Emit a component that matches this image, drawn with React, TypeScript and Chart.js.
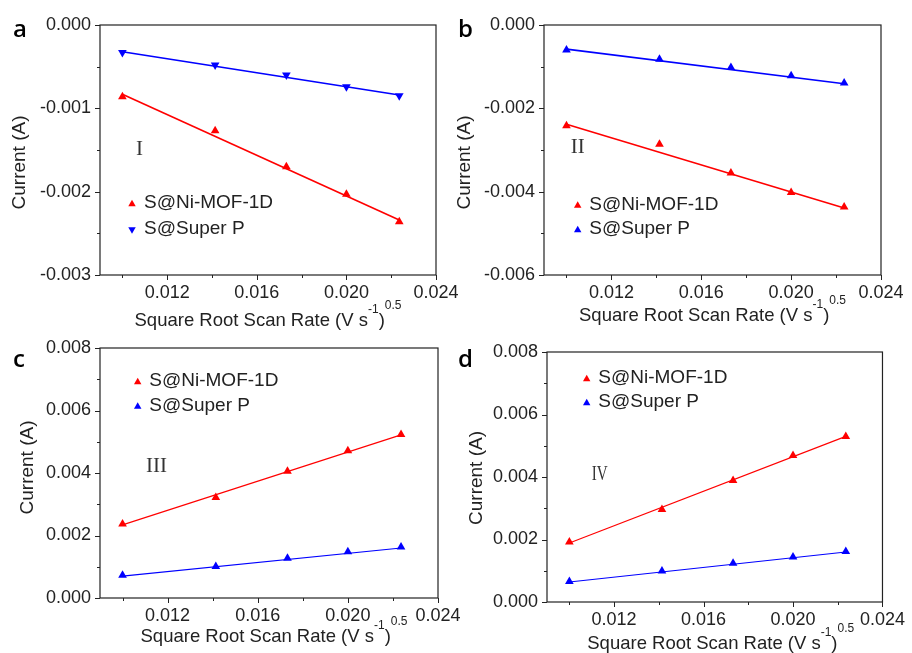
import { useEffect, useRef } from "react";
import { Chart, registerables } from "chart.js";

Chart.register(...registerables);

const W = 912;
const H = 653;
const SANS = "'Liberation Sans', Arial, sans-serif";
const SERIF = "'Liberation Serif', 'Times New Roman', serif";
const RED = "#ff0000";
const BLUE = "#0000ff";
const INK = "#222222";

// Square root of the scan rate, (V s^-1)^0.5
const sqrtScanRate = [0.01, 0.01414, 0.01732, 0.02, 0.02236];
// x positions of the two ends of each linear fit
const fitX = [0.01, 0.02236];

const xTickValues = [0.01, 0.012, 0.014, 0.016, 0.018, 0.02, 0.022, 0.024];
const xTickLabels = ["", "0.012", "", "0.016", "", "0.020", "", "0.024"];

// Peak I
const aNiMOF = [-0.00086, -0.00127, -0.0017, -0.00203, -0.00236];
const aSuperP = [-0.00033, -0.00048, -0.0006, -0.00074, -0.00085];
const aNiMOFFit = [-0.00083, -0.00234];
const aSuperPFit = [-0.00032, -0.00084];
const aYTicks = [0, -0.0005, -0.001, -0.0015, -0.002, -0.0025, -0.003];
const aYLabels = ["0.000", "", "-0.001", "", "-0.002", "", "-0.003"];

// Peak II
const bNiMOF = [-0.00242, -0.00286, -0.00355, -0.00402, -0.00437];
const bSuperP = [-0.0006, -0.00082, -0.00102, -0.00122, -0.00139];
const bNiMOFFit = [-0.00238, -0.00439];
const bSuperPFit = [-0.00058, -0.00141];
const bYTicks = [0, -0.001, -0.002, -0.003, -0.004, -0.005, -0.006];
const bYLabels = ["0.000", "", "-0.002", "", "-0.004", "", "-0.006"];

// Peak III
const cNiMOF = [0.00237, 0.00322, 0.00406, 0.00471, 0.00523];
const cSuperP = [0.00073, 0.00101, 0.00127, 0.00148, 0.00163];
const cNiMOFFit = [0.00234, 0.00522];
const cSuperPFit = [0.0007, 0.0016];
const cYTicks = [0, 0.001, 0.002, 0.003, 0.004, 0.005, 0.006, 0.007, 0.008];
const cYLabels = ["0.000", "", "0.002", "", "0.004", "", "0.006", "", "0.008"];

// Peak IV
const dNiMOF = [0.00192, 0.00296, 0.00389, 0.00469, 0.0053];
const dSuperP = [0.00066, 0.00099, 0.00124, 0.00144, 0.00162];
const dNiMOFFit = [0.00189, 0.0053];
const dSuperPFit = [0.00064, 0.0016];
const dYTicks = cYTicks;
const dYLabels = cYLabels;

const seriesNames = ["S@Ni-MOF-1D", "S@Super P"];

type Panel = {
  letter: string;
  roman: string;
  yTicks: number[];
  yLabels: string[];
  ni: number[];
  niFit: number[];
  sp: number[];
  spFit: number[];
  spDown: boolean;
  lineWidth: number;
  area: { l: number; t: number; r: number; b: number };
  letterPos: [number, number];
  romanPos: [number, number];
  romanScaleX: number;
  legendMarkerDx: number;
  legendTextDx: number;
  legendRows: [number, number];
  yTitle: [number, number];
  xTitle: [number, number];
};

const panels: Panel[] = [
  {
    letter: "a", roman: "I", yTicks: aYTicks, yLabels: aYLabels,
    ni: aNiMOF, niFit: aNiMOFFit, sp: aSuperP, spFit: aSuperPFit, spDown: true, lineWidth: 1.6,
    area: { l: 100, t: 25, r: 436, b: 275 },
    letterPos: [13, 37], romanPos: [36, 130], romanScaleX: 1,
    legendMarkerDx: 32, legendTextDx: 44, legendRows: [178, 203.5],
    yTitle: [-80, 137.5], xTitle: [0, 51],
  },
  {
    letter: "b", roman: "II", yTicks: bYTicks, yLabels: bYLabels,
    ni: bNiMOF, niFit: bNiMOFFit, sp: bSuperP, spFit: bSuperPFit, spDown: false, lineWidth: 1.6,
    area: { l: 544, t: 25, r: 881, b: 275 },
    letterPos: [458, 37], romanPos: [26.7, 128], romanScaleX: 1,
    legendMarkerDx: 33.7, legendTextDx: 45.3, legendRows: [179.5, 204],
    yTitle: [-79, 137.5], xTitle: [0, 46],
  },
  {
    letter: "c", roman: "III", yTicks: cYTicks, yLabels: cYLabels,
    ni: cNiMOF, niFit: cNiMOFFit, sp: cSuperP, spFit: cSuperPFit, spDown: false, lineWidth: 1.1,
    area: { l: 100, t: 348, r: 438, b: 598 },
    letterPos: [13, 367], romanPos: [46, 123.7], romanScaleX: 1,
    legendMarkerDx: 37.7, legendTextDx: 49.3, legendRows: [33, 57.5],
    yTitle: [-72.5, 119.5], xTitle: [5, 43.7],
  },
  {
    letter: "d", roman: "IV", yTicks: dYTicks, yLabels: dYLabels,
    ni: dNiMOF, niFit: dNiMOFFit, sp: dSuperP, spFit: dSuperPFit, spDown: false, lineWidth: 1.1,
    area: { l: 547, t: 352, r: 887, b: 602 },
    letterPos: [458, 367], romanPos: [44.7, 128], romanScaleX: 0.72,
    legendMarkerDx: 39.7, legendTextDx: 51.3, legendRows: [26, 50],
    yTitle: [-70, 126], xTitle: [6, 47.3],
  },
];

function triangle(ctx: CanvasRenderingContext2D, x: number, y: number, r: number, down: boolean) {
  const s = down ? -1 : 1;
  ctx.beginPath();
  ctx.moveTo(x, y - s * r);
  ctx.lineTo(x + r * 0.866, y + s * r * 0.5);
  ctx.lineTo(x - r * 0.866, y + s * r * 0.5);
  ctx.closePath();
  ctx.fill();
}

function decorations(p: Panel) {
  return {
    id: "panelDecor" + p.letter,
    afterDatasetsDraw(chart: Chart) {
      const ctx = chart.ctx;
      const ca = chart.chartArea;
      const xs = chart.scales.x;
      const ys = chart.scales.y;
      ctx.save();

      // plot frame
      ctx.strokeStyle = INK;
      ctx.lineWidth = 1.2;
      ctx.strokeRect(ca.left, ca.top, ca.right - ca.left, ca.bottom - ca.top);

      // outward tick marks, shorter for minor ticks
      ctx.lineWidth = 1;
      ctx.beginPath();
      xTickValues.forEach((v, i) => {
        const px = Math.round(xs.getPixelForValue(v)) + 0.5;
        const len = xTickLabels[i] ? 5 : 3;
        ctx.moveTo(px, ca.bottom);
        ctx.lineTo(px, ca.bottom + len);
      });
      p.yTicks.forEach((v, i) => {
        const py = Math.round(ys.getPixelForValue(v)) + 0.5;
        const len = p.yLabels[i] ? 5 : 3;
        ctx.moveTo(ca.left, py);
        ctx.lineTo(ca.left - len, py);
      });
      ctx.stroke();

      // legend
      const colors = [RED, BLUE];
      ctx.font = `19px ${SANS}`;
      ctx.textBaseline = "middle";
      ctx.textAlign = "left";
      seriesNames.forEach((name, i) => {
        const ry = ca.top + p.legendRows[i];
        ctx.fillStyle = colors[i];
        triangle(ctx, ca.left + p.legendMarkerDx, ry + 1, 4.3, i === 1 && p.spDown);
        ctx.fillStyle = INK;
        ctx.fillText(name, ca.left + p.legendTextDx, ry);
      });

      // peak label
      ctx.save();
      ctx.font = `21px ${SERIF}`;
      ctx.fillStyle = "#333333";
      ctx.textBaseline = "alphabetic";
      ctx.translate(ca.left + p.romanPos[0], ca.top + p.romanPos[1]);
      ctx.scale(p.romanScaleX, 1);
      ctx.fillText(p.roman, 0, 0);
      ctx.restore();

      // y axis title
      ctx.save();
      ctx.font = `19px ${SANS}`;
      ctx.fillStyle = INK;
      ctx.textAlign = "center";
      ctx.textBaseline = "middle";
      ctx.translate(ca.left + p.yTitle[0], ca.top + p.yTitle[1]);
      ctx.rotate(-Math.PI / 2);
      ctx.fillText("Current (A)", 0, 0);
      ctx.restore();

      // x axis title with superscripts
      const parts: [string, number, number][] = [
        ["Square Root Scan Rate (V s", 18.5, 0],
        ["-1", 12, -13],
        [")", 18.5, 0],
        ["0.5", 12, -17],
      ];
      let total = 0;
      const widths = parts.map(([t, size]) => {
        ctx.font = `${size}px ${SANS}`;
        const w = ctx.measureText(t).width;
        total += w;
        return w;
      });
      let tx = (ca.left + ca.right) / 2 + p.xTitle[0] - total / 2;
      const base = ca.bottom + p.xTitle[1];
      ctx.fillStyle = INK;
      ctx.textAlign = "left";
      ctx.textBaseline = "alphabetic";
      parts.forEach(([t, size, rise], i) => {
        ctx.font = `${size}px ${SANS}`;
        ctx.fillText(t, tx, base + rise);
        tx += widths[i];
      });

      // panel letter
      ctx.font = `600 24px 'Open Sans', 'DejaVu Sans', sans-serif`;
      ctx.fillStyle = "#000000";
      ctx.fillText(p.letter, p.letterPos[0], p.letterPos[1]);

      ctx.restore();
    },
  };
}

function PanelChart({ p }: { p: Panel }) {
  const ref = useRef<HTMLCanvasElement>(null);

  useEffect(() => {
    const canvas = ref.current;
    if (!canvas) return;
    const yAxisWidth = 60;
    const xAxisHeight = 40;
    const ySorted = [...p.yTicks].sort((a, b) => a - b);
    const toPoints = (xv: number[], yv: number[]) => xv.map((x, i) => ({ x, y: yv[i] }));

    const chart = new Chart(canvas, {
      type: "scatter",
      data: {
        datasets: [
          {
            label: seriesNames[0] + " fit",
            data: toPoints(fitX, p.niFit),
            showLine: true,
            borderColor: RED,
            borderWidth: p.lineWidth,
            pointRadius: 0,
          },
          {
            label: seriesNames[1] + " fit",
            data: toPoints(fitX, p.spFit),
            showLine: true,
            borderColor: BLUE,
            borderWidth: p.lineWidth,
            pointRadius: 0,
          },
          {
            label: seriesNames[0],
            data: toPoints(sqrtScanRate, p.ni),
            showLine: false,
            pointStyle: "triangle",
            pointRadius: 5,
            pointBackgroundColor: RED,
            pointBorderColor: RED,
            pointBorderWidth: 0,
          },
          {
            label: seriesNames[1],
            data: toPoints(sqrtScanRate, p.sp),
            showLine: false,
            pointStyle: "triangle",
            pointRotation: p.spDown ? 180 : 0,
            pointRadius: 5,
            pointBackgroundColor: BLUE,
            pointBorderColor: BLUE,
            pointBorderWidth: 0,
          },
        ],
      },
      options: {
        responsive: false,
        animation: false,
        devicePixelRatio: 1,
        layout: {
          padding: {
            left: p.area.l - yAxisWidth,
            top: p.area.t,
            right: W - p.area.r,
            bottom: H - p.area.b - xAxisHeight,
          },
        },
        plugins: {
          legend: { display: false },
          tooltip: { enabled: false },
        },
        scales: {
          x: {
            type: "linear",
            min: 0.009,
            max: 0.024,
            afterFit: (s: any) => {
              s.height = xAxisHeight;
            },
            afterBuildTicks: (s: any) => {
              s.ticks = xTickValues.map((value) => ({ value }));
            },
            grid: { display: false, drawTicks: false },
            border: { display: false },
            ticks: {
              autoSkip: false,
              maxRotation: 0,
              minRotation: 0,
              padding: 7,
              color: INK,
              font: { family: SANS, size: 18 },
              callback: (v: any) => {
                const k = xTickValues.findIndex((t) => Math.abs(t - Number(v)) < 1e-9);
                return k >= 0 ? xTickLabels[k] : "";
              },
            },
          },
          y: {
            type: "linear",
            min: ySorted[0],
            max: ySorted[ySorted.length - 1],
            afterFit: (s: any) => {
              s.width = yAxisWidth;
            },
            afterBuildTicks: (s: any) => {
              s.ticks = ySorted.map((value) => ({ value }));
            },
            grid: { display: false, drawTicks: false },
            border: { display: false },
            ticks: {
              autoSkip: false,
              padding: 9,
              color: INK,
              font: { family: SANS, size: 18 },
              callback: (v: any) => {
                const k = p.yTicks.findIndex((t) => Math.abs(t - Number(v)) < 1e-9);
                return k >= 0 ? p.yLabels[k] : "";
              },
            },
          },
        },
      },
      plugins: [decorations(p)],
    });

    return () => chart.destroy();
  }, [p]);

  return (
    <canvas
      ref={ref}
      width={W}
      height={H}
      style={{ position: "absolute", left: 0, top: 0, width: W, height: H }}
    />
  );
}

export default function App() {
  return (
    <div
      style={{
        position: "fixed",
        left: 0,
        top: 0,
        width: W,
        height: H,
        background: "#ffffff",
        overflow: "hidden",
      }}
    >
      {panels.map((p) => (
        <PanelChart key={p.letter} p={p} />
      ))}
    </div>
  );
}
